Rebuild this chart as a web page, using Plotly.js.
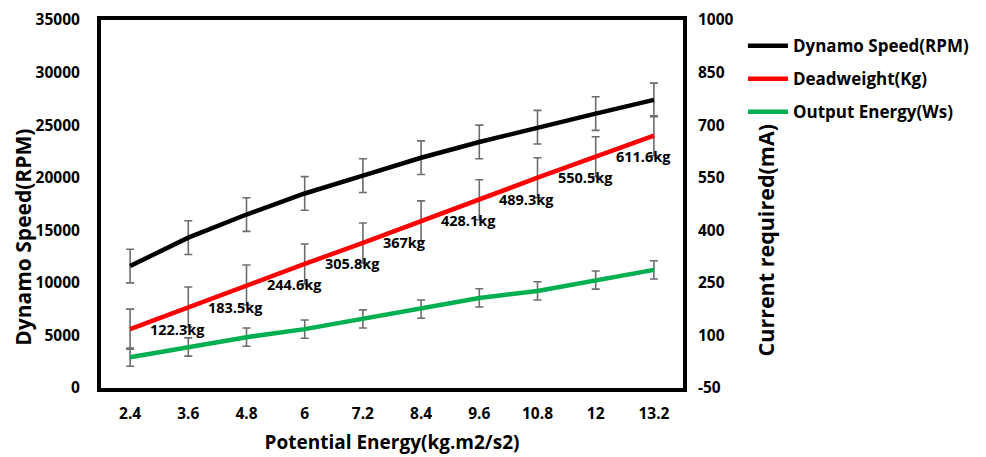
<!DOCTYPE html>
<html>
<head>
<meta charset="utf-8">
<script src="https://cdn.plot.ly/plotly-3.0.1.min.js"></script>
<style>html,body{margin:0;padding:0;background:#fff;}#chart{width:986px;height:457px;}</style>
</head>
<body>
<div id="chart"></div>
<script>
const categories = ['2.4', '3.6', '4.8', '6', '7.2', '8.4', '9.6', '10.8', '12', '13.2'];
const dynamoSpeed = [11600, 14300, 16500, 18500, 20200, 21900, 23400, 24800, 26100, 27400];
const dynamoErr = [1600, 1600, 1600, 1600, 1600, 1600, 1600, 1600, 1600, 1600];
const deadweight = [5600, 7700, 9800, 11800, 13800, 15900, 17900, 20000, 22000, 24000];
const deadweightErr = [1900, 1900, 1900, 1900, 1900, 1900, 1900, 1900, 1900, 1900];
const deadweightLabels = ['122.3kg', '183.5kg', '244.6kg', '305.8kg', '367kg', '428.1kg', '489.3kg', '550.5kg', '611.6kg', ''];
const outputEnergy = [38, 67, 95, 118, 147, 175, 207, 227, 258, 287];
const outputErr = [26, 26, 26, 26, 26, 26, 26, 26, 26, 26];
const leftTicks = [0, 5000, 10000, 15000, 20000, 25000, 30000, 35000];
const rightTicks = [-50, 100, 250, 400, 550, 700, 850, 1000];
const xTitle = 'Potential Energy(kg.m2/s2)';
const yTitle = 'Dynamo Speed(RPM)';
const y2Title = 'Current required(mA)';

const FONT = '"Open Sans", Lato, sans-serif';
const errStyle = (arr) => ({type: 'data', array: arr, visible: true, color: '#6d6d6d', thickness: 1.6, width: 4});

const traces = [
  {x: categories, y: dynamoSpeed, name: 'Dynamo Speed(RPM)', type: 'scatter', mode: 'lines',
   line: {color: '#000000', width: 4.5}, error_y: errStyle(dynamoErr), legendgroup: 'a'},
  {x: categories, y: deadweight, name: 'Deadweight(Kg)', type: 'scatter', mode: 'lines',
   line: {color: '#ff0000', width: 4.5}, error_y: errStyle(deadweightErr), legendgroup: 'b'},
  {x: categories, y: outputEnergy, name: 'Output Energy(Ws)', type: 'scatter', mode: 'lines', yaxis: 'y2',
   line: {color: '#00b050', width: 4.5}, error_y: errStyle(outputErr), legendgroup: 'c'}
];

const annotations = deadweightLabels.map((t, i) => ({
  x: i, y: deadweight[i], xref: 'x', yref: 'y', text: t, showarrow: false,
  xanchor: 'left', yanchor: 'middle', xshift: 18, yshift: 0,
  font: {family: FONT, size: 14.5, color: '#000', weight: 'bold'}
})).filter(a => a.text !== '');

annotations.push({
  x: -0.1346, y: 0.41, xref: 'paper', yref: 'paper', text: yTitle, textangle: -90, showarrow: false,
  xanchor: 'center', yanchor: 'middle', font: {family: FONT, size: 21, color: '#000', weight: 'bold'}
});
annotations.push({
  x: 1.142, y: 0.40, xref: 'paper', yref: 'paper', text: y2Title, textangle: -90, showarrow: false,
  xanchor: 'center', yanchor: 'middle', font: {family: FONT, size: 21.5, color: '#000', weight: 'bold'}
});

const layout = {
  width: 986, height: 457,
  margin: {l: 101, r: 298, t: 20, b: 69},
  paper_bgcolor: '#fff', plot_bgcolor: '#fff',
  font: {family: FONT, size: 15, color: '#000', weight: 'bold'},
  showlegend: true,
  legend: {x: 1.103, y: 0.978, xanchor: 'left', yanchor: 'top', traceorder: 'grouped', tracegroupgap: 8,
           itemwidth: 40,
           font: {family: FONT, size: 17, color: '#000', weight: 'bold'}, bgcolor: 'rgba(0,0,0,0)'},
  xaxis: {type: 'category', range: [-0.5, 9.5], showgrid: false, zeroline: false,
          showline: true, mirror: true, linecolor: '#000', linewidth: 4, ticks: '',
          ticklabelstandoff: 8, tickfont: {family: FONT, size: 15.5, weight: 'bold'},
          title: {text: xTitle, font: {family: FONT, size: 19, weight: 'bold'}, standoff: 14}},
  yaxis: {range: [0, 35000], tickvals: leftTicks, ticktext: leftTicks.map(String), showgrid: false, zeroline: false,
          showline: true, mirror: true, linecolor: '#000', linewidth: 4, ticks: '',
          ticklabelstandoff: 14, tickfont: {family: FONT, size: 15.5, weight: 'bold'}},
  yaxis2: {overlaying: 'y', side: 'right', range: [-50, 1000], tickvals: rightTicks, ticktext: rightTicks.map(String),
           showgrid: false, zeroline: false, showline: false, ticks: '',
           ticklabelstandoff: 14, tickfont: {family: FONT, size: 15.5, weight: 'bold'}},
  annotations: annotations
};

Plotly.newPlot('chart', traces, layout, {staticPlot: true, displayModeBar: false});
</script>
</body>
</html>
